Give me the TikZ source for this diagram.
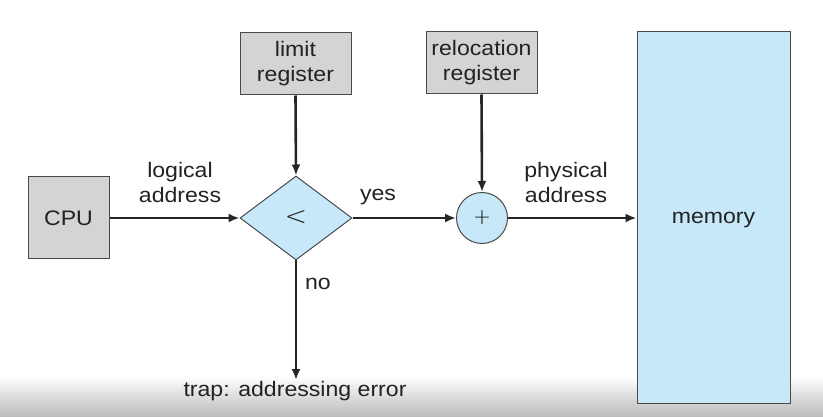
\documentclass[tikz,border=0pt]{standalone}
\usepackage{fontspec}
\setmainfont{Liberation Sans}[FakeStretch=1.1]
\usetikzlibrary{shapes.geometric,arrows.meta}
\definecolor{boxgray}{HTML}{D4D4D4}
\definecolor{boxblue}{HTML}{C6E8F8}
\definecolor{edge}{HTML}{4A4A4A}
\definecolor{txt}{HTML}{222222}
\tikzset{
  graybox/.style={draw=edge,line width=1pt,fill=boxgray,rectangle,inner sep=0pt,align=center,text=txt,font=\fontsize{21}{25}\selectfont},
  bluebox/.style={draw=edge,line width=1pt,fill=boxblue,inner sep=0pt,align=center,text=txt,font=\fontsize{21}{25}\selectfont},
  lbl/.style={align=center,text=txt,font=\fontsize{21}{25}\selectfont,inner sep=0pt},
  conn/.style={line width=2.6pt,draw=black!85,-{Latex[length=11pt,width=9pt]}}
}
\begin{document}
\begin{tikzpicture}[x=1pt,y=-1pt]
\useasboundingbox (0,0) rectangle (823,417);
\shade[top color=white,bottom color=black!27] (0,376) rectangle (823,417);
\node[graybox,minimum width=81pt,minimum height=82pt] (cpu) at (68.5,218) {\raisebox{-1pt}{CPU}};
\node[bluebox,diamond,minimum width=112pt,minimum height=84pt,font=\fontsize{27}{27}\selectfont\fontspec{DejaVu Sans ExtraLight}] (lt) at (296,218) {<};
\node[graybox,minimum width=111pt,minimum height=62pt] (limit) at (295.5,64) {limit\\register};
\node[graybox,minimum width=111pt,minimum height=62pt] (reloc) at (481.5,63) {relocation\\register};
\node[bluebox,circle,minimum size=51pt,font=\fontsize{22}{22}\selectfont\fontspec{DejaVu Sans ExtraLight}] (plus) at (482,218) {+};
\node[bluebox,minimum width=153pt,minimum height=371pt] (mem) at (713.5,217.5) {\raisebox{-6pt}[0pt][0pt]{memory}};
\coordinate (trapend) at (296,380);
\node[lbl] (trap) at (295,391) {trap: addressing error};
\node[lbl] (logical) at (180,182) {logical\\address};
\node[lbl] (yes) at (378,197) {yes};
\node[lbl] (physical) at (566,182) {physical\\address};
\node[lbl] (no) at (318,284) {no};
\draw[conn] (cpu.east) -- (lt.west);
\draw[conn] (limit.south) -- (lt.north);
\draw[conn] (lt.east) -- (plus.west);
\draw[conn] (reloc.south) -- (plus.north);
\draw[conn] (plus.east) -- (mem.west |- plus.east);
\draw[conn] (lt.south) -- (trapend);
\end{tikzpicture}
\end{document}
